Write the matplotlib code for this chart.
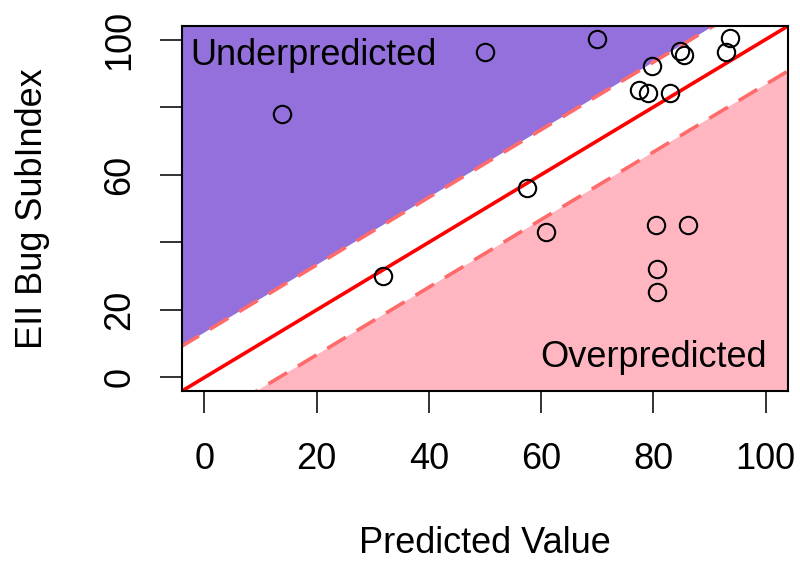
import matplotlib
matplotlib.use("Agg")
import matplotlib.pyplot as plt
import numpy as np

plt.rcParams['font.family'] = ['Liberation Sans', 'DejaVu Sans']

# Data
predicted = [13.8, 31.9, 50.0, 57.4, 60.8, 69.9, 77.4, 79.1, 79.7, 80.4, 80.6, 80.6,
             82.9, 84.8, 85.5, 86.1, 92.9, 93.7]
observed = [78.0, 30.0, 96.3, 56.1, 43.1, 100.2, 85.2, 84.2, 92.1, 45.1, 32.1, 25.4,
            84.2, 96.5, 95.3, 45.1, 96.4, 100.5]
band = 13.3
x_ticks = [0, 20, 40, 60, 80, 100]
y_ticks = [0, 20, 40, 60, 80, 100]
y_tick_labels = ['0', '20', '', '60', '', '100']

W, H = 800, 561
fig = plt.figure(figsize=(W / 100, H / 100), dpi=100)
ax = fig.add_axes([182 / W, 1 - 391 / H, 606 / W, 365 / H])
ax.set_xlim(-4, 104)
ax.set_ylim(-4, 104)

xx = np.array([-20, 130])
ax.fill_between(xx, xx + band, 200, color='#9370DB', lw=0, zorder=1)
ax.fill_between(xx, -200, xx - band, color='#FFB6C1', lw=0, zorder=1)
ax.plot(xx, xx, color='red', lw=2.6, zorder=3)
ax.plot(xx, xx + band, color='#FF6B6B', lw=2.6, dashes=(6, 3.5), zorder=3)
ax.plot(xx, xx - band, color='#FF6B6B', lw=2.6, dashes=(6, 3.5), zorder=3)

ax.plot(predicted, observed, linestyle='none', marker='o', ms=12.5,
        mfc='none', mec='black', mew=1.5, zorder=4)

ax.text(-2.6, 92.6, 'Underpredicted', fontsize=26, ha='left', va='baseline', zorder=5)
ax.text(100.3, 3.0, 'Overpredicted', fontsize=26, ha='right', va='baseline', zorder=5)

ax.set_xticks(x_ticks)
ax.set_xticklabels([str(t) for t in x_ticks])
ax.set_yticks(y_ticks)
ax.set_yticklabels(y_tick_labels, rotation=90, va='center')
ax.tick_params(axis='both', length=16, width=1.3, labelsize=26, color='#222222')
ax.tick_params(axis='x', pad=21)
ax.tick_params(axis='y', pad=16)
for s in ax.spines.values():
    s.set_linewidth(1.5)
    s.set_zorder(6)

ax.set_xlabel('Predicted Value', fontsize=26, labelpad=35)
ax.set_ylabel('EII Bug SubIndex', fontsize=26, labelpad=38)

fig.savefig('out.png', dpi=100)
